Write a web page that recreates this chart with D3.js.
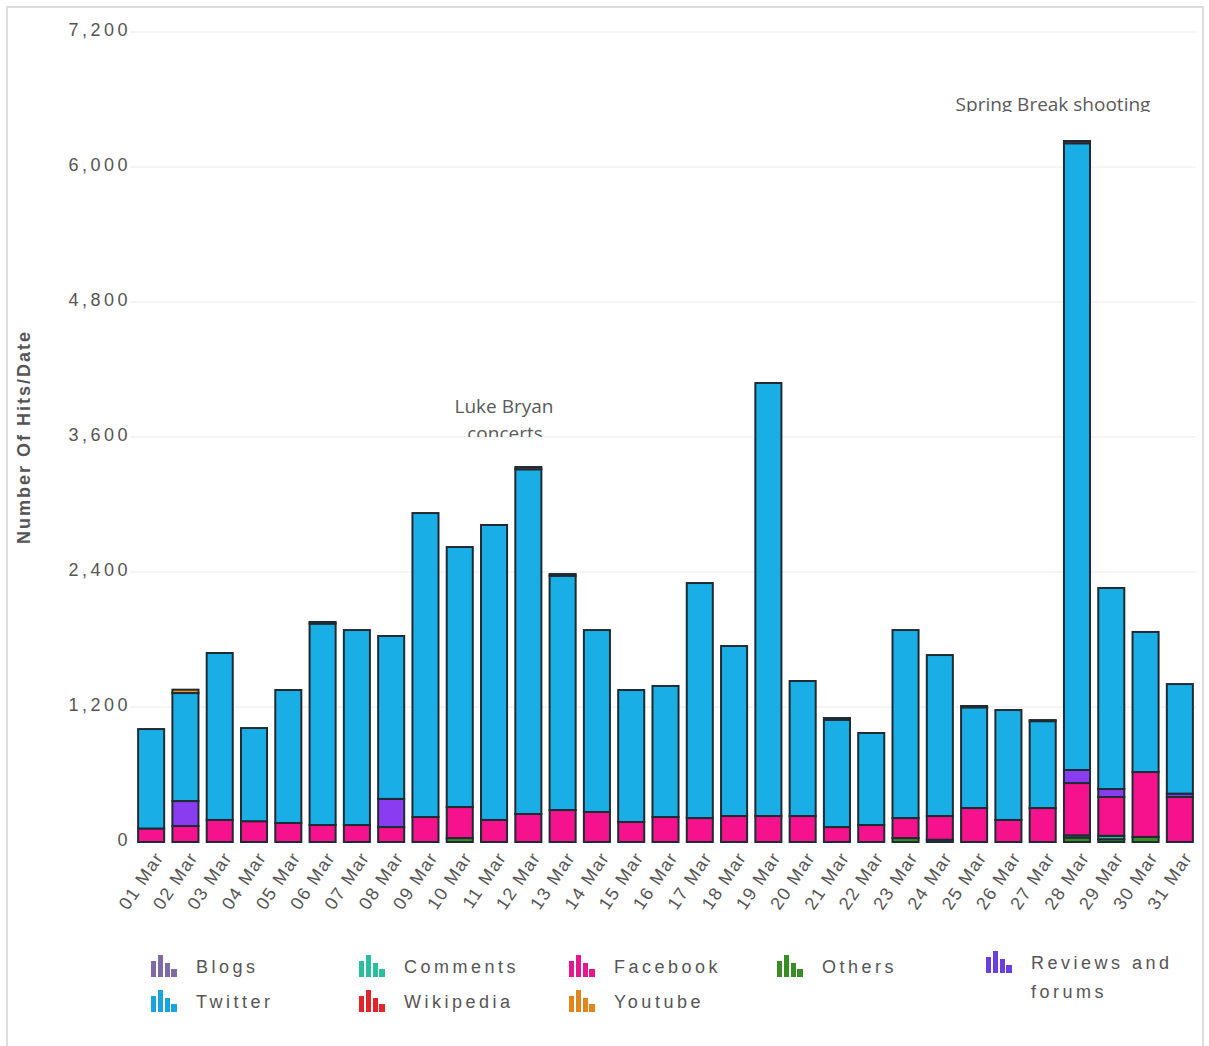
<!DOCTYPE html>
<html>
<head>
<meta charset="utf-8">
<script src="https://cdn.jsdelivr.net/npm/d3@7"></script>
<style>
  body { margin: 0; background: #fff; }
  text { font-family: "Liberation Sans", Arial, sans-serif; }
</style>
</head>
<body>
<svg id="chart" width="1209" height="1046"></svg>
<script>
// days of March
var days = ["01 Mar","02 Mar","03 Mar","04 Mar","05 Mar","06 Mar","07 Mar","08 Mar","09 Mar","10 Mar",
            "11 Mar","12 Mar","13 Mar","14 Mar","15 Mar","16 Mar","17 Mar","18 Mar","19 Mar","20 Mar",
            "21 Mar","22 Mar","23 Mar","24 Mar","25 Mar","26 Mar","27 Mar","28 Mar","29 Mar","30 Mar","31 Mar"];

var others    = [0,0,0,0,0,0,0,0,0,35, 0,0,0,0,0,0,0,0,0,0, 0,0,35,0,0,0,0,40,25,45, 0];
var comments  = [0,0,0,0,0,0,0,0,0,0, 0,0,0,0,0,0,0,0,0,0, 0,0,0,20,0,0,0,20,30,0, 0];
var blogs     = [0,0,0,0,0,0,0,0,0,0, 0,0,0,0,0,0,0,0,0,0, 0,0,0,0,0,0,0,0,0,0, 0];
var facebook  = [120,142,196,185,169,151,151,133,222,276, 196,249,284,267,178,222,213,231,231,231, 133,151,178,211,302,196,302,464,345,577, 400];
var reviews   = [0,222,0,0,0,0,0,250,0,0, 0,0,0,0,0,0,0,0,0,0, 0,0,0,0,0,0,0,116,71,0, 30];
var twitter   = [884,960,1484,828,1182,1790,1733,1448,2702,2311, 2622,3064,2083,1617,1173,1165,2089,1511,3849,1200, 954,818,1671,1431,895,977,772,5571,1787,1245, 974];
var wikipedia = [0,0,0,0,0,15,0,0,0,0, 0,20,15,0,0,0,0,0,0,0, 15,0,0,0,12,0,10,20,0,0, 0];
var youtube   = [0,30,0,0,0,0,0,0,0,0, 0,0,0,0,0,0,0,0,0,0, 0,0,0,0,0,0,0,0,0,0, 0];

var yTicks = [0,1200,2400,3600,4800,6000,7200];

var legendNames  = ["Blogs","Comments","Facebook","Others","Reviews and forums","Twitter","Wikipedia","Youtube"];
var legendColors = ["#7d6aa6","#2bbfa0","#e3198b","#3a8c24","#6a3fe0","#1aa3dc","#e3242b","#e0861c"];

var series = {
  others: others, comments: comments, blogs: blogs, facebook: facebook,
  reviews: reviews, twitter: twitter, wikipedia: wikipedia, youtube: youtube
}
var stackKeys = ["others","comments","blogs","facebook","reviews","twitter","wikipedia","youtube"];
var fills = {
  others: "#3a8c24", comments: "#2bbfa0", blogs: "#8a6db3", facebook: "#f5128c",
  reviews: "#8a3cf0", twitter: "#1aaee6", wikipedia: "#e3242b", youtube: "#f0941e"
}

var svg = d3.select("#chart");

// frame
svg.append("rect")
  .attr("x",7).attr("y",7).attr("width",1196).attr("height",1050)
  .attr("fill","none").attr("stroke","#dcdcdc").attr("stroke-width",2);

var rows = days.map(function(d,i){
  var r = {day: d};
  stackKeys.forEach(function(k){ r[k] = series[k][i]; });
  return r;
})

var x = d3.scaleBand()
  .domain(days)
  .range([134, 1197])
  .paddingInner(0.24)
  .paddingOuter(0.12);

var y = d3.scaleLinear()
  .domain([0, 7200])
  .range([842, 32]);

// gridlines
svg.append("g")
  .selectAll("line")
  .data(yTicks.filter(function(t){return t>0}))
  .enter()
  .append("line")
  .attr("x1",130).attr("x2",1196)
  .attr("y1",function(d){return y(d)}).attr("y2",function(d){return y(d)})
  .attr("stroke","#f2f2f2").attr("stroke-width",1.5);

// y axis
var yAxis = d3.axisLeft(y)
  .tickValues(yTicks)
  .tickFormat(d3.format(","))
  .tickSize(0)
  .tickPadding(0);

var yg = svg.append("g")
  .attr("transform","translate(131,0)")
  .call(yAxis);
yg.select(".domain").remove();
yg.selectAll("text")
  .style("font-size","18px")
  .style("letter-spacing","3.5px")
  .style("fill","#555")
  .attr("dy","0.2em");

svg.append("text")
  .attr("transform","translate(30,437) rotate(-90)")
  .style("text-anchor","middle")
  .style("font-size","18px")
  .style("letter-spacing","2px")
  .style("font-weight","bold")
  .style("fill","#555")
  .text("Number Of Hits/Date");

// x axis
var xAxis = d3.axisBottom(x).tickSize(0).tickPadding(0);
var xg = svg.append("g")
  .attr("transform","translate(0,852)")
  .call(xAxis);
xg.select(".domain").remove();
xg.selectAll("text")
  .style("font-size","18px")
  .style("letter-spacing","1.5px")
  .style("fill","#555")
  .style("text-anchor","end")
  .attr("dy","0.35em")
  .attr("dx","-0.1em")
  .attr("transform","translate(9,0) rotate(-56)");

// stacked bars
var stacked = d3.stack().keys(stackKeys)(rows);

var layer = svg.append("g")
  .selectAll("g")
  .data(stacked)
  .enter()
  .append("g")
  .attr("fill",function(d){return fills[d.key]});

layer.selectAll("rect")
  .data(function(d){return d.filter(function(s){return s[1]-s[0] > 0})})
  .enter()
  .append("rect")
  .attr("x",function(d){return x(d.data.day)})
  .attr("width",x.bandwidth())
  .attr("y",function(d){return y(d[1])})
  .attr("height",function(d){return y(d[0])-y(d[1])})
  .attr("stroke","#1e2b33")
  .attr("stroke-width",2);

// annotations (clipped like the original)
var defs = svg.append("defs");
defs.append("clipPath").attr("id","clipLuke")
  .append("rect").attr("x",400).attr("y",380).attr("width",200).attr("height",57);
defs.append("clipPath").attr("id","clipSpring")
  .append("rect").attr("x",900).attr("y",80).attr("width",300).attr("height",32);

var luke = svg.append("g").attr("clip-path","url(#clipLuke)");
luke.append("text")
  .attr("x",504).attr("y",413)
  .style("text-anchor","middle")
  .style("font-family","'Open Sans', sans-serif")
  .style("font-size","19px")
  .style("fill","#5a5a5a")
  .text("Luke Bryan");
luke.append("text")
  .attr("x",505).attr("y",440)
  .style("text-anchor","middle")
  .style("font-family","'Open Sans', sans-serif")
  .style("font-size","19px")
  .style("fill","#5a5a5a")
  .text("concerts");

svg.append("g").attr("clip-path","url(#clipSpring)")
  .append("text")
  .attr("x",1053).attr("y",111)
  .style("text-anchor","middle")
  .style("font-family","'Open Sans', sans-serif")
  .style("font-size","19px")
  .style("fill","#5a5a5a")
  .text("Spring Break shooting");

// legend
var legendPos = [
  {x:150, y:967}, {x:358, y:967}, {x:568, y:967}, {x:776, y:967}, {x:985, y:963},
  {x:150, y:1002}, {x:358, y:1002}, {x:568, y:1002}
];

var lg = svg.append("g")
  .selectAll("g")
  .data(legendNames)
  .enter()
  .append("g")
  .attr("transform",function(d,i){return "translate(" + legendPos[i].x + "," + legendPos[i].y + ")"});

// little bar-chart icon
var iconBars = [[1,4,6,16],[8,-2,6,22],[15,6,6,14],[21,12,7,8]];
lg.each(function(d,i){
  var g = d3.select(this);
  var c = legendColors[i];
  g.selectAll("rect.ic")
    .data(iconBars)
    .enter()
    .append("rect")
    .attr("class","ic")
    .attr("x",function(b){return b[0]})
    .attr("y",function(b){return b[1]-10})
    .attr("width",function(b){return b[2]-1})
    .attr("height",function(b){return b[3]})
    .attr("fill",c);
})

lg.append("text")
  .attr("x",46)
  .attr("y",0)
  .attr("dy","0.35em")
  .style("font-size","18px")
  .style("letter-spacing","3.5px")
  .style("fill","#555")
  .each(function(d){
    var t = d3.select(this);
    if(d == "Reviews and forums"){
      t.append("tspan").attr("x",46).text("Reviews and");
      t.append("tspan").attr("x",46).attr("dy","1.6em").text("forums");
    }
    else{
      t.text(d);
    }
  });
</script>
</body>
</html>
